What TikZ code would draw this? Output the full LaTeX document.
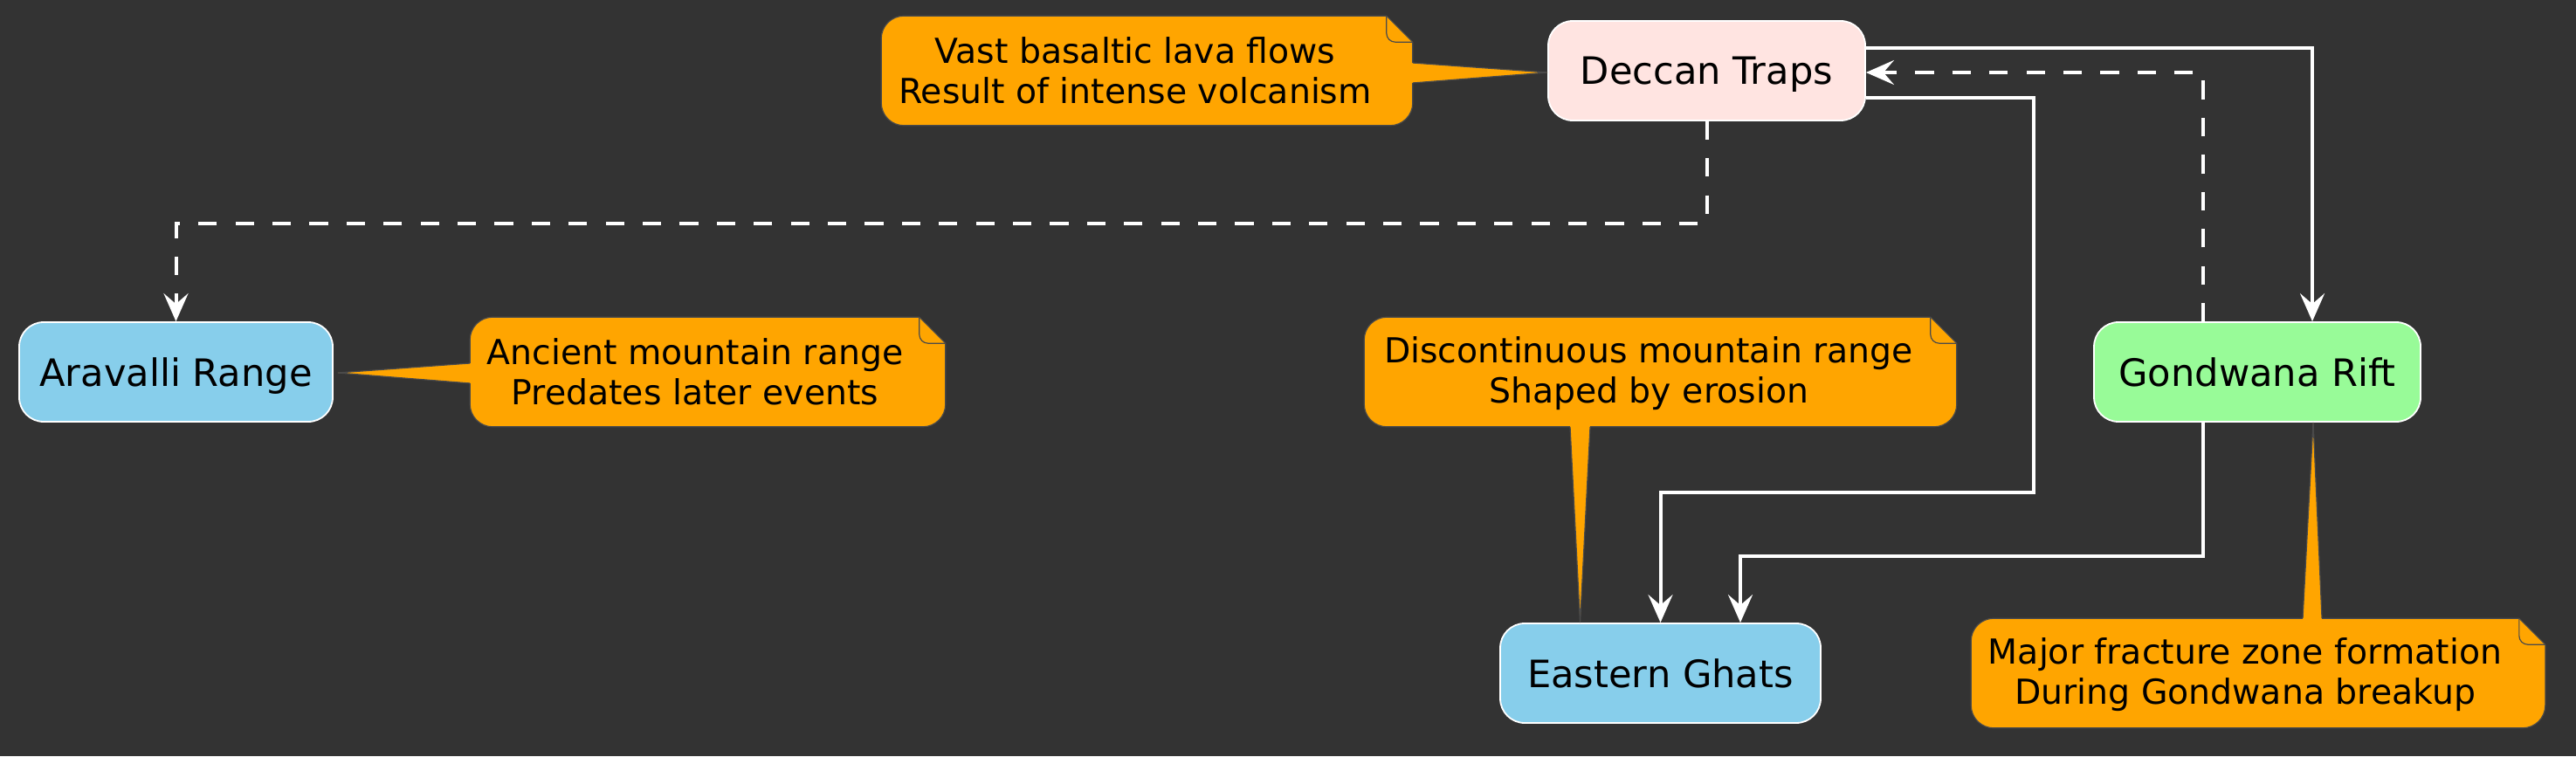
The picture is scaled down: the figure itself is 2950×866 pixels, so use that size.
\documentclass[tikz,border=0pt]{standalone}
\usepackage{fontspec}
\setmainfont{DejaVu Sans}
\usetikzlibrary{arrows.meta,calc}
\definecolor{bgc}{HTML}{333333}
\definecolor{deccanc}{HTML}{FFE4E1}
\definecolor{skyc}{HTML}{87CEEB}
\definecolor{greenc}{HTML}{98FB98}
\definecolor{notec}{HTML}{FFA500}
\definecolor{noteline}{HTML}{4A4A4A}
\newcommand\drawnotebody[1]{%
  \path[fill=notec,draw=noteline,line width=0.3pt]
    ($(#1.north east)+(-30,0)$) -- ($(#1.north west)+(26,0)$)
    arc[start angle=90,end angle=180,radius=6.5pt]
    -- ($(#1.south west)+(0,-26)$)
    arc[start angle=180,end angle=270,radius=6.5pt]
    -- ($(#1.south east)+(-26,0)$)
    arc[start angle=270,end angle=360,radius=6.5pt]
    -- ($(#1.north east)+(0,30)$) -- cycle;
  \draw[noteline,line width=0.3pt]
    ($(#1.north east)+(-30,0)$) -- ($(#1.north east)+(-30,20)$)
    arc[start angle=180,end angle=270,radius=2.5pt]
    -- ($(#1.north east)+(0,30)$);
}
\begin{document}
\begin{tikzpicture}[x=0.25pt,y=-0.25pt,
  box/.style={draw=white,line width=0.45pt,rounded corners=7pt,inner sep=0pt,
    font=\fontsize{10.8pt}{13pt}\selectfont,text=black,minimum height=28.5pt,text depth=0pt},
  notetext/.style={inner sep=0pt,align=center,font=\fontsize{9.85pt}{11.5pt}\selectfont,text=black},
  notebody/.style={draw=none,inner sep=0pt,minimum height=31pt},
  conn/.style={draw=white,line width=1pt,-{Stealth[length=8pt,width=7pt,inset=3pt]}},
  dashconn/.style={conn,dash pattern=on 5.3pt off 5.3pt},
  ptrfill/.style={fill=notec},
  ptrline/.style={draw=noteline,line width=0.3pt},
]
\fill[bgc] (0,0) rectangle (2950,866);
\useasboundingbox (0,0) rectangle (2950,866);

% main nodes
\node[box,fill=deccanc,minimum width=90.75pt] (deccan) at (1954.5,81) {Deccan Traps};
\node[box,fill=skyc,minimum width=89.75pt] (aravalli) at (201.5,426) {Aravalli Range};
\node[box,fill=skyc,minimum width=91.75pt] (eastern) at (1901.5,771) {Eastern Ghats};
\node[box,fill=greenc,minimum width=93.5pt] (gondwana) at (2585,426) {Gondwana Rift};

% note bodies
\node[notebody,minimum width=151.75pt] (vastb) at (1313.5,81) {};
\node[notebody,minimum width=135.75pt] (ancientb) at (810.5,426) {};
\node[notebody,minimum width=169.25pt] (discb) at (1901.5,426) {};
\node[notebody,minimum width=164pt] (majorb) at (2586,771) {};

\drawnotebody{vastb}
\drawnotebody{ancientb}
\drawnotebody{discb}
\drawnotebody{majorb}

% pointers
\fill[ptrfill] ($(vastb.east)+(-3,-9)$) -- ($(deccan.west)+(0,2)$) -- ($(vastb.east)+(-3,14)$) -- cycle;
\draw[ptrline] ($(vastb.east)+(0,-9)$) -- ($(deccan.west)+(0,2)$) -- ($(vastb.east)+(0,14)$);

\fill[ptrfill] ($(ancientb.west)+(3,-10)$) -- ($(aravalli.east)+(5,1)$) -- ($(ancientb.west)+(3,13)$) -- cycle;
\draw[ptrline] ($(ancientb.west)+(0,-10)$) -- ($(aravalli.east)+(5,1)$) -- ($(ancientb.west)+(0,13)$);

\fill[ptrfill] ($(discb.south)+(-103.5,-3)$) -- ($(eastern.north)+(-92,0)$) -- ($(discb.south)+(-80.5,-3)$) -- cycle;
\draw[ptrline] ($(discb.south)+(-103.5,0)$) -- ($(eastern.north)+(-92,0)$) -- ($(discb.south)+(-80.5,0)$);

\fill[ptrfill] ($(majorb.north)+(51,3)$) -- ($(gondwana.south)+(64,0)$) -- ($(majorb.north)+(73,3)$) -- cycle;
\draw[ptrline] ($(majorb.north)+(51,0)$) -- ($(gondwana.south)+(64,0)$) -- ($(majorb.north)+(73,0)$);

% note texts
\node[notetext] (vastt) at (1300,81) {Vast basaltic lava flows\\Result of intense volcanism};
\node[notetext] (ancientt) at (796,426) {Ancient mountain range\\Predates later events};
\node[notetext] (disct) at (1888,428) {Discontinuous mountain range\\Shaped by erosion};
\node[notetext] (majort) at (2571,773) {Major fracture zone formation\\During Gondwana breakup};

% connectors
\draw[conn] ($(deccan.east)+(0,-26)$) -| ($(gondwana.north)+(63,0)$);
\draw[conn] ($(deccan.east)+(0,31)$) -- ++(192,0) |- ($(eastern.north)+(0,-149)$) -- (eastern.north);
\draw[conn] ($(gondwana.south)+(-62,0)$) -- ++(0,153) -| ($(eastern.north)+(91.5,0)$);
\draw[dashconn] ($(gondwana.north)+(-62,0)$) |- ($(deccan.east)+(0,2)$);
\draw[dashconn] (deccan.south) -- ++(0,117) -| (aravalli.north);
\end{tikzpicture}
\end{document}
